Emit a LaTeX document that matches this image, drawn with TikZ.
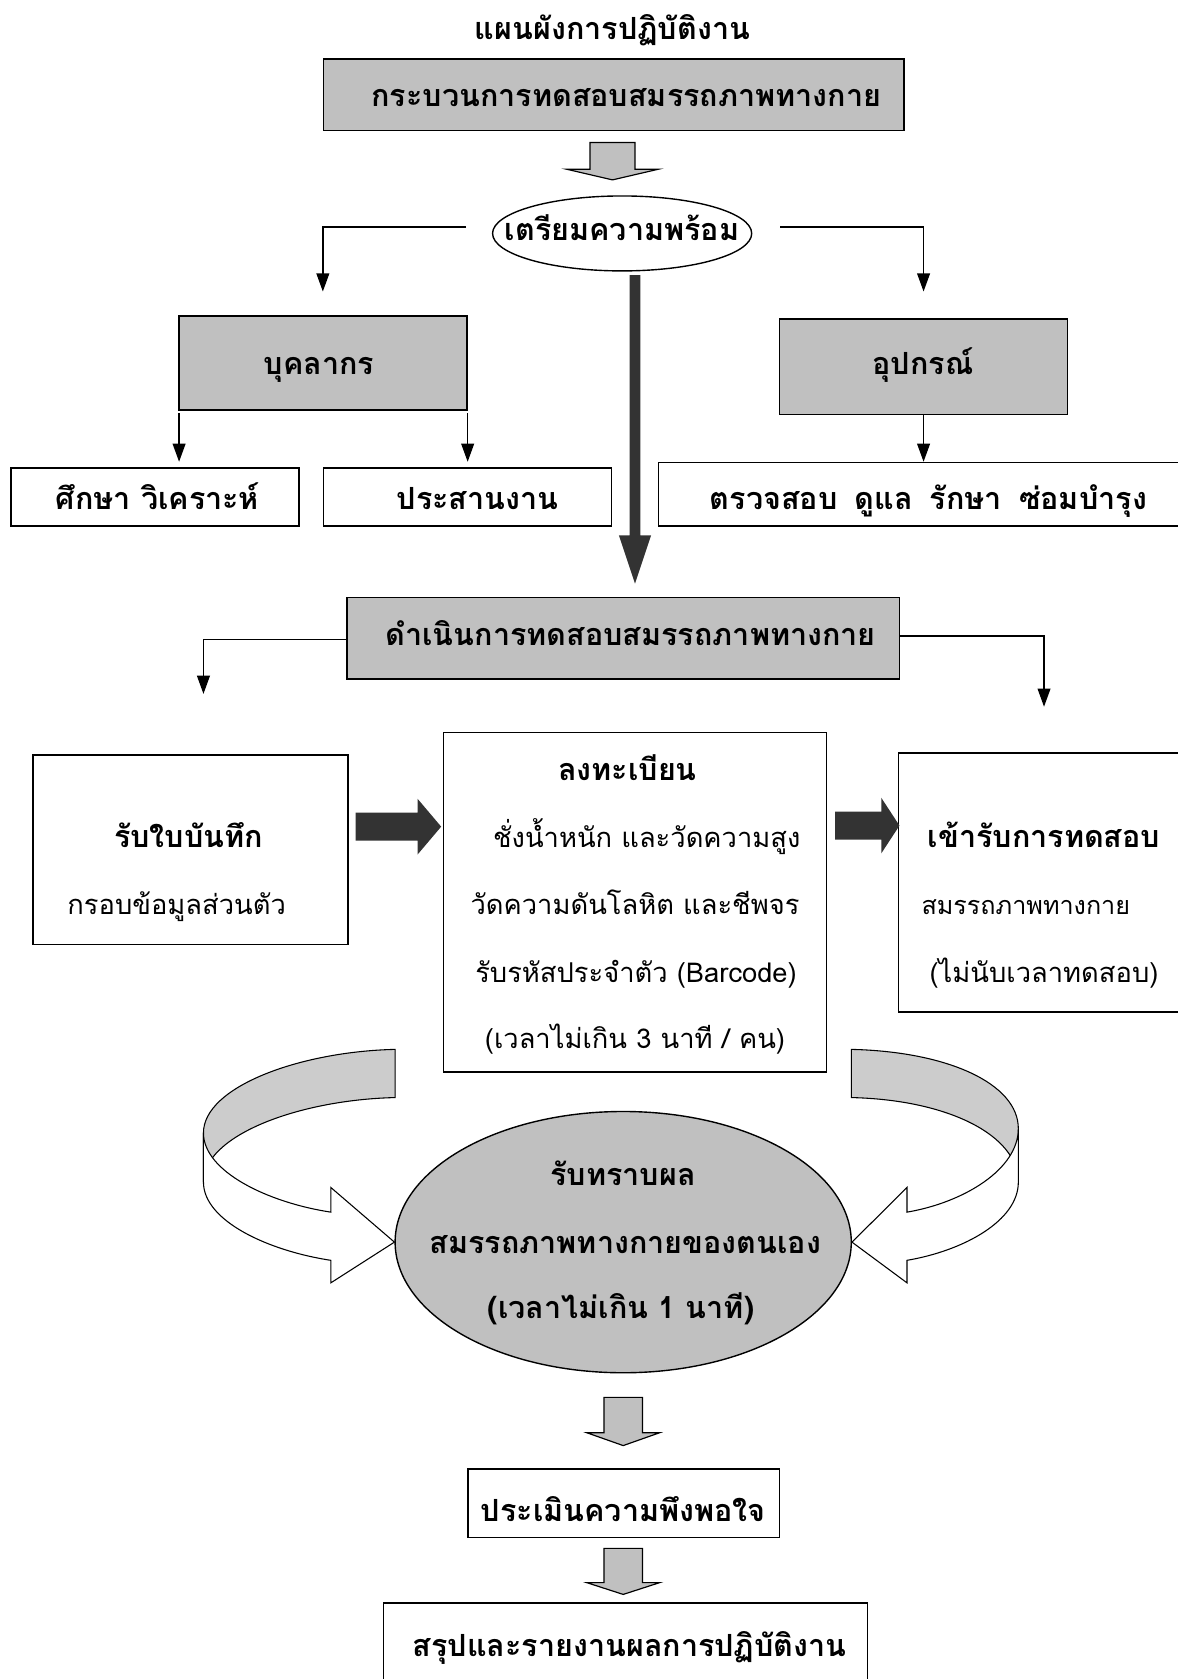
\documentclass[tikz,border=0pt]{standalone}
\usepackage{fontspec}
\setmainfont[Script=Thai]{Loma}
\usetikzlibrary{arrows.meta,calc,shapes.geometric}
\definecolor{boxgray}{HTML}{C0C0C0}
\definecolor{bandgray}{HTML}{CCCCCC}
\definecolor{darkfill}{HTML}{333333}
\begin{document}
\begin{tikzpicture}[x=1pt,y=-1pt,
  box/.style={draw, line width=1.5pt, inner sep=0pt},
  gbox/.style={box, fill=boxgray},
  conn/.style={line width=1.3pt, -{Triangle[length=17pt,width=12pt]}},
  body/.style={font=\fontsize{25.5}{30}\selectfont, inner sep=0pt, text height=12.5pt, text depth=0pt, yshift=-2pt},
  head/.style={font=\bfseries\fontsize{28.5}{33}\selectfont, inner sep=0pt, text height=14pt, text depth=0pt, yshift=-2pt},
  blockarrow/.style={draw, line width=1.1pt, fill=boxgray, line join=miter},
  darkarrow/.style={fill=darkfill},
  ribbonback/.style={draw, line width=1pt, fill=bandgray},
  ribbonfront/.style={draw, line width=1pt, fill=white, line join=miter},
]
\useasboundingbox (0,0) rectangle (1100,1568);

% title
\node[head] (title) at (572,28) {แผนผังการปฏิบัติงาน};

% top box
\node[gbox, minimum width=542pt, minimum height=67pt] (top) at (573,88.5) {};
\node[head] (toptxt) at (585,90) {กระบวนการทดสอบสมรรถภาพทางกาย};

% grey arrow 1
\coordinate (g1) at (572,133);
\draw[blockarrow] ($(g1)+(-21,0)$) -- ($(g1)+(21,0)$) -- ($(g1)+(21,25)$) -- ($(g1)+(43,25)$)
  -- ($(g1)+(0,35)$) -- ($(g1)+(-43,25)$) -- ($(g1)+(-21,25)$) -- cycle;

% preparation ellipse
\node[ellipse, draw, line width=1.3pt, minimum width=242pt, minimum height=70pt, inner sep=0pt] (prep) at (581,218) {};
\node[head] (preptxt) at (581,216) {เตรียมความพร้อม};

% person / equipment
\node[gbox, minimum width=269pt, minimum height=88pt] (person) at (301.5,339) {};
\node[head] (persontxt) at (298,341) {บุคลากร};
\node[gbox, minimum width=269pt, minimum height=89pt] (equip) at (862.5,342.5) {};
\node[head] (equiptxt) at (862,341) {อุปกรณ์};

\draw[conn] ([xshift=-24pt,yshift=6pt]prep.west) -| ([yshift=22pt]person.north);
\draw[conn] ([xshift=26pt,yshift=6pt]prep.east) -| ([yshift=25pt]equip.north);

% level 3 boxes
\node[box, minimum width=269pt, minimum height=54pt] (study) at (144.5,464) {};
\node[head] (studytxt) at (147,467) {ศึกษา วิเคราะห์};
\node[box, minimum width=269pt, minimum height=54pt] (coord) at (436.5,464) {};
\node[head] (coordtxt) at (446,467) {ประสานงาน};
\node[box, minimum width=495pt, minimum height=59pt] (maint) at (862.5,461.5) {};
\node[head] (mainttxt) at (867,467) {ตรวจสอบ\hspace{16pt}ดูแล\hspace{16pt}รักษา\hspace{16pt}ซ่อมบำรุง};

\draw[conn] ([xshift=1pt,yshift=-2pt]person.south west) -- ($(person.south west |- study.north)+(1,-5)$);
\draw[conn] ([yshift=-2pt]person.south east) -- ($(person.south east |- coord.north)+(0,-5)$);
\draw[conn] (equip.south) -- (maint.north);

% execution box
\node[gbox, minimum width=516pt, minimum height=76pt] (exec) at (582,596) {};
\node[head] (exectxt) at (589,594) {ดำเนินการทดสอบสมรรถภาพทางกาย};

% dark vertical arrow
\coordinate (ds) at (593,257);
\coordinate (de) at (593,545);
\fill[darkarrow] ($(ds)+(-5,0)$) -- ($(ds)+(5,0)$) -- ($(de)+(5,-45)$) -- ($(de)+(15,-45)$)
  -- (de) -- ($(de)+(-15,-45)$) -- ($(de)+(-5,-45)$) -- cycle;

% step boxes
\node[box, minimum width=294pt, minimum height=177pt] (rec) at (178,793.5) {};
\node[head] (rect1) at (176,782) {รับใบบันทึก};
\node[body] (rect2) at (165,846) {กรอบข้อมูลส่วนตัว};

\node[box, minimum width=358pt, minimum height=317pt] (reg) at (593,842.5) {};
\node[head] (regt1) at (586,720) {ลงทะเบียน};
\node[body] (regt2) at (604,783) {ชั่งน้ำหนัก และวัดความสูง};
\node[body] (regt3) at (593,846) {วัดความดันโลหิต และชีพจร};
\node[body] (regt4) at (594,909) {รับรหัสประจำตัว (Barcode)};
\node[body] (regt5) at (593,971) {(เวลาไม่เกิน 3 นาที / คน)};

\node[box, minimum width=268pt, minimum height=242pt] (test) at (973,824) {};
\node[head] (testt1) at (975,782) {เข้ารับการทดสอบ};
\node[body, font=\fontsize{23.5}{28}\selectfont] (testt2) at (958,846) {สมรรถภาพทางกาย};
\node[body] (testt3) at (975,909) {(ไม่นับเวลาทดสอบ)};

\coordinate (recin) at (190,648);
\coordinate (testin) at (975,660);
\draw[conn] ([yshift=-1pt]exec.west) -| (recin);
\draw[conn] ([yshift=2pt]exec.east) -| (testin);

% dark horizontal arrows
\coordinate (h1) at (332,772);
\fill[darkarrow] ($(h1)+(0,-13)$) -- ($(h1)+(58,-13)$) -- ($(h1)+(58,-26)$) -- ($(h1)+(80,0)$)
  -- ($(h1)+(58,26)$) -- ($(h1)+(58,13)$) -- ($(h1)+(0,13)$) -- cycle;
\coordinate (h2) at (780,771);
\fill[darkarrow] ($(h2)+(0,-13)$) -- ($(h2)+(43,-13)$) -- ($(h2)+(43,-26)$) -- ($(h2)+(60,0)$)
  -- ($(h2)+(43,26)$) -- ($(h2)+(43,13)$) -- ($(h2)+(0,13)$) -- cycle;

% result ellipse
\node[ellipse, draw, line width=1.3pt, fill=boxgray, minimum width=426pt, minimum height=244pt, inner sep=0pt] (res) at (582,1160) {};
\node[head] (rest1) at (582,1098) {รับทราบผล};
\node[head] (rest2) at (584,1162) {สมรรถภาพทางกายของตนเอง};
\node[head] (rest3) at (580,1222) {(เวลาไม่เกิน 1 นาที)};

% left curved arrow
\draw[ribbonback] (369,980) .. controls (280,982) and (190,1015) .. (190,1058)
  -- (190,1104) .. controls (190,1060) and (280,1027) .. (369,1025) -- cycle;
\draw[ribbonfront] (190,1058) .. controls (190,1094) and (250,1123) .. (309,1132)
  -- (309,1109) -- (res.west) -- (309,1198) -- (309,1177)
  .. controls (250,1168) and (190,1140) .. (190,1104) -- cycle;

% right curved arrow
\draw[ribbonback] (795,980) .. controls (885,982) and (951,1012) .. (951,1054)
  -- (951,1104) .. controls (951,1060) and (885,1027) .. (795,1025) -- cycle;
\draw[ribbonfront] (951,1054) .. controls (951,1092) and (900,1123) .. (847,1132)
  -- (847,1109) -- (res.east) -- (847,1198) -- (847,1177)
  .. controls (900,1168) and (951,1140) .. (951,1104) -- cycle;

% grey arrows 2, 3
\coordinate (g2) at (582,1305);
\draw[blockarrow] ($(g2)+(-18,0)$) -- ($(g2)+(18,0)$) -- ($(g2)+(18,33)$) -- ($(g2)+(34,33)$)
  -- ($(g2)+(0,45)$) -- ($(g2)+(-34,33)$) -- ($(g2)+(-18,33)$) -- cycle;
\node[box, minimum width=291pt, minimum height=64pt] (eval) at (582.5,1404) {};
\node[head] (evaltxt) at (582,1412) {ประเมินความพึงพอใจ};
\coordinate (g3) at (582,1446);
\draw[blockarrow] ($(g3)+(-18,0)$) -- ($(g3)+(18,0)$) -- ($(g3)+(18,32)$) -- ($(g3)+(34,32)$)
  -- ($(g3)+(0,43)$) -- ($(g3)+(-34,32)$) -- ($(g3)+(-18,32)$) -- cycle;
\node[box, minimum width=452pt, minimum height=83pt] (sum) at (584,1538.5) {};
\node[head] (sumtxt) at (588,1538) {สรุปและรายงานผลการปฏิบัติงาน};
\end{tikzpicture}
\end{document}
